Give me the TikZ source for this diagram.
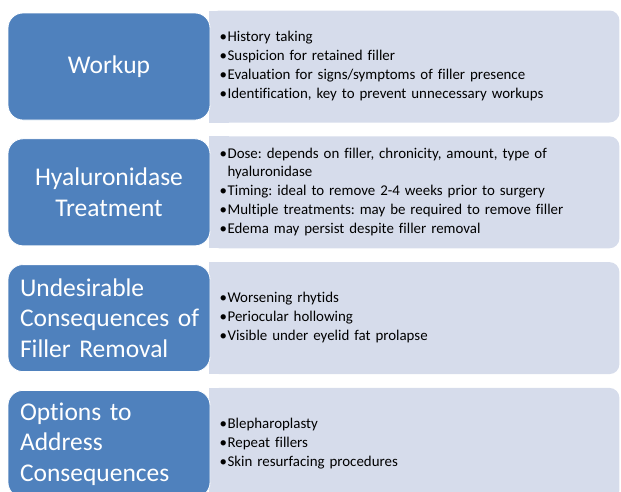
\documentclass[tikz,border=0pt]{standalone}
\usepackage{fontspec}
\setmainfont{Carlito}[Ligatures=NoCommon]
\usetikzlibrary{positioning,backgrounds}
\definecolor{hdrblue}{RGB}{79,129,189}
\definecolor{pnlgrey}{RGB}{214,220,235}
\tikzset{
  hdr/.style  = {rectangle, rounded corners=15pt, draw=white, line width=0.8pt, fill=hdrblue,
                 text=white, font=\fontsize{25.5}{30.5}\selectfont, minimum width=202pt,
                 minimum height=107pt, inner sep=0pt},
  hdrc/.style = {hdr, align=center, text width=196pt},
  hdrl/.style = {hdr, align=left, text width=178pt},
  pnl/.style  = {rectangle, rounded corners=10pt, fill=pnlgrey, minimum width=410pt,
                 minimum height=112pt, inner sep=0pt, outer sep=0pt},
  pts/.style  = {anchor=west, align=left, text width=380pt, inner sep=0pt, yshift=4.5pt,
                 font=\fontsize{14.9}{17.5}\selectfont\frenchspacing},
}
\newcommand{\bitem}{\par\vspace{1.5pt}\hangindent=8pt\hangafter=1\noindent\makebox[8pt][l]{\textbullet}}

\begin{document}
\begin{tikzpicture}[node distance=18pt]
  \useasboundingbox (0,0) rectangle (621pt,-491pt);

  \node[hdrc] (wk) at (109pt,-66.5pt) {Workup};
  \node[hdrc, below=of wk] (ht) {Hyaluronidase\\Treatment};
  \node[hdrl, below=of ht] (uc) {Undesirable\\\mbox{Consequences of}\\Filler Removal};
  \node[hdrl, below=of uc] (oa) {Options to\\Address\\Consequences};

  % grey panels behind the headers
  \begin{scope}[on background layer]
    \foreach \h in {wk,ht,uc,oa} {
      \node[pnl, right=-1pt of \h] (\h p) {};
      \fill[pnlgrey] (\h p.north west) rectangle ([xshift=20pt]\h p.south west);
    }
  \end{scope}

  \node[pts] (wkt) at ([xshift=10pt]wkp.west) {%
    \bitem History taking
    \bitem Suspicion for retained filler
    \bitem Evaluation for signs/symptoms of filler presence
    \bitem Identification, key to prevent unnecessary workups};
  \node[pts] (htt) at ([xshift=10pt]htp.west) {%
    \bitem Dose: depends on filler, chronicity, amount, type of hyaluronidase
    \bitem Timing: ideal to remove 2-4 weeks prior to surgery
    \bitem Multiple treatments: may be required to remove filler
    \bitem Edema may persist despite filler removal};
  \node[pts] (uct) at ([xshift=10pt]ucp.west) {%
    \bitem Worsening rhytids
    \bitem Periocular hollowing
    \bitem Visible under eyelid fat prolapse};
  \node[pts] (oat) at ([xshift=10pt]oap.west) {%
    \bitem Blepharoplasty
    \bitem Repeat fillers
    \bitem Skin resurfacing procedures};

\end{tikzpicture}
\end{document}
